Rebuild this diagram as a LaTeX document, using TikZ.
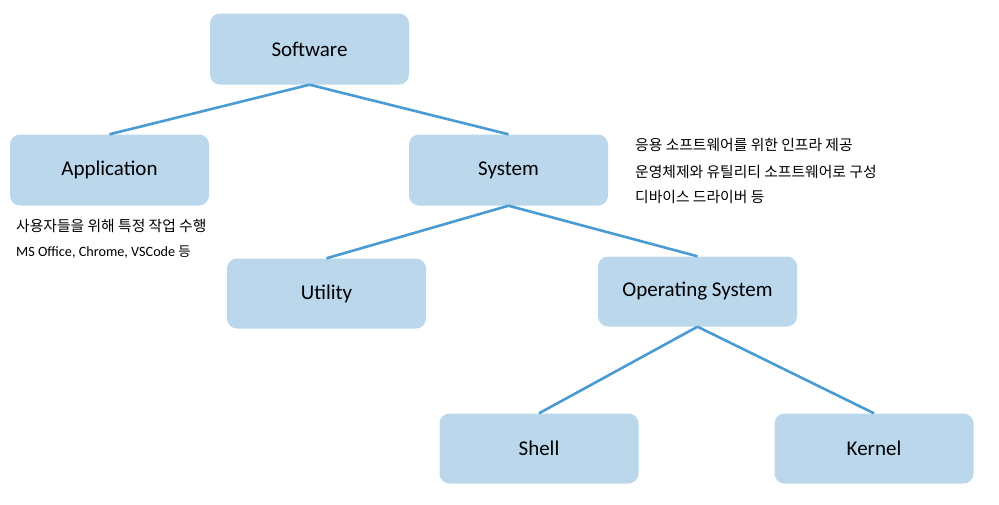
\documentclass[tikz,border=0pt]{standalone}
\usepackage{fontspec}
\setmainfont{Carlito}
\newfontfamily\kr{Noto Sans CJK KR}
\definecolor{boxfill}{HTML}{BAD7EC}
\definecolor{linec}{HTML}{4A9AD4}
\begin{document}
\begin{tikzpicture}[x=1pt,y=-1pt,
  box/.style={fill=boxfill,rounded corners=10pt,minimum width=199pt,minimum height=71pt,inner sep=0pt,font=\fontsize{21}{24}\selectfont},
  conn/.style={draw=linec,line width=2.6pt},
  note/.style={anchor=west,inner sep=0pt,font=\kr\fontsize{14.8}{17}\selectfont}]
\useasboundingbox (0,0) rectangle (999,504);
\node[box] (sw) at (309.5,49) {Software};
\node[box] (app) at (109.5,170) {Application};
\node[box] (sys) at (508.5,170) {System};
\node[box,minimum height=70pt] (util) at (326.5,293.5) {Utility};
\node[box,minimum height=70pt] (os) at (697.5,291.5) {Operating System};
\node[box,minimum height=70pt] (shell) at (539,448.5) {Shell};
\node[box,minimum height=70pt] (kern) at (874,448.5) {Kernel};
\draw[conn] (sw.south) -- (app.north);
\draw[conn] (sw.south) -- (sys.north);
\draw[conn] (sys.south) -- (util.north);
\draw[conn] (sys.south) -- (os.north);
\draw[conn] (os.south) -- (shell.north);
\draw[conn] (os.south) -- (kern.north);
\node[note] (n1) at (16,226) {사용자들을 위해 특정 작업 수행};
\node[note,font=\fontsize{14.2}{17}\selectfont] (n2) at (16,252) {MS Office, Chrome, VSCode {\kr\fontsize{13.5}{17}\selectfont 등}};
\node[note] (n3) at (635,145) {응용 소프트웨어를 위한 인프라 제공};
\node[note] (n4) at (635,172) {운영체제와 유틸리티 소프트웨어로 구성};
\node[note] (n5) at (635,197) {디바이스 드라이버 등};
\end{tikzpicture}
\end{document}
